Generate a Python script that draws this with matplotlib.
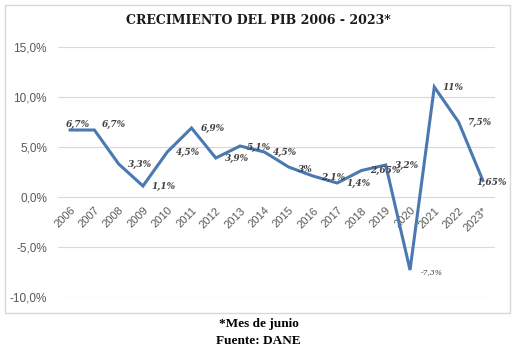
import matplotlib
matplotlib.use("Agg")
import matplotlib.pyplot as plt
from matplotlib.patches import Rectangle
from matplotlib.ticker import FuncFormatter

years = ['2006', '2007', '2008', '2009', '2010', '2011', '2012', '2013', '2014',
         '2015', '2016', '2017', '2018', '2019', '2020', '2021', '2022', '2023*']
growth = [6.7, 6.7, 3.3, 1.1, 4.5, 6.9, 3.9, 5.1, 4.5,
          3.0, 2.1, 1.4, 2.65, 3.2, -7.3, 11.0, 7.5, 1.65]
labels = ['6,7%', '6,7%', '3,3%', '1,1%', '4,5%', '6,9%', '3,9%', '5,1%', '4,5%',
          '3%', '2,1%', '1,4%', '2,65%', '3,2%', '-7,3%', '11%', '7,5%', '1,65%']
yticks = [-10, -5, 0, 5, 10, 15]

line_color = '#4a79b1'
grid_color = '#d9d9d9'
tick_color = '#595959'
label_color = '#404040'

fig = plt.figure(figsize=(5.17, 3.52), dpi=100, facecolor='white')

# outer chart border
fig.patches.append(Rectangle((5 / 517, 1 - 313 / 352), 505 / 517, 308 / 352,
                             transform=fig.transFigure, fill=False,
                             edgecolor=grid_color, linewidth=1))

ax = fig.add_axes([58 / 517, 1 - 297 / 352, 437 / 517, 250 / 352])
x = list(range(len(years)))
ax.plot(x, growth, color=line_color, linewidth=2.2, solid_joinstyle='miter', zorder=3)

ax.set_xlim(-0.5, len(years) - 0.5)
ax.set_ylim(-10, 15)
ax.set_yticks(yticks)
ax.yaxis.set_major_formatter(FuncFormatter(lambda v, p: f"{v:.1f}%".replace('.', ',')))
ax.grid(axis='y', color=grid_color, linewidth=0.8)
ax.set_axisbelow(True)
for s in ['top', 'right', 'left']:
    ax.spines[s].set_visible(False)
ax.spines['bottom'].set_position(('data', 0))
ax.spines['bottom'].set_visible(False)

ax.set_xticks(x)
ax.set_xticklabels(years, rotation=45, ha='right', va='top', rotation_mode='anchor',
                   fontsize=8, family='Liberation Sans', color=tick_color)
ax.tick_params(axis='x', length=0, pad=6)
ax.tick_params(axis='y', length=0, pad=8, labelsize=8.5, labelcolor=tick_color)
for t in ax.get_yticklabels():
    t.set_family('Liberation Sans')

# data label offsets in pixels (default right of the point)
offsets = {0: (8, 6), 1: (19, 6), 7: (19, -1), 9: (17, -2), 10: (20, -1),
           14: (22, -2), 17: (9, -2), 12: (24, 0), 15: (19, 0)}
for i, (v, lab) in enumerate(zip(growth, labels)):
    dx, dy = offsets.get(i, (21, 0))
    small = lab.startswith('-')
    ax.annotate(lab, (i, v), xytext=(dx, dy), textcoords='offset pixels',
                ha='center', va='center', fontsize=5.5 if small else 6.5,
                fontstyle='italic', fontweight='normal' if small else 'bold',
                family='DejaVu Serif', color=label_color, zorder=4)

fig.text(0.5, 1 - 20 / 352, 'CRECIMIENTO DEL PIB 2006 - 2023*', ha='center', va='center',
         fontsize=9, fontweight='bold', family='DejaVu Serif', color='#1a1a1a')
fig.text(0.5, 1 - 324 / 352, '*Mes de junio', ha='center', va='center',
         fontsize=9.5, fontweight='bold', family='Liberation Serif', color='black')
fig.text(0.5, 1 - 341 / 352, 'Fuente: DANE', ha='center', va='center',
         fontsize=9.5, fontweight='bold', family='Liberation Serif', color='black')

fig.savefig('out.png', dpi=100, facecolor='white')
